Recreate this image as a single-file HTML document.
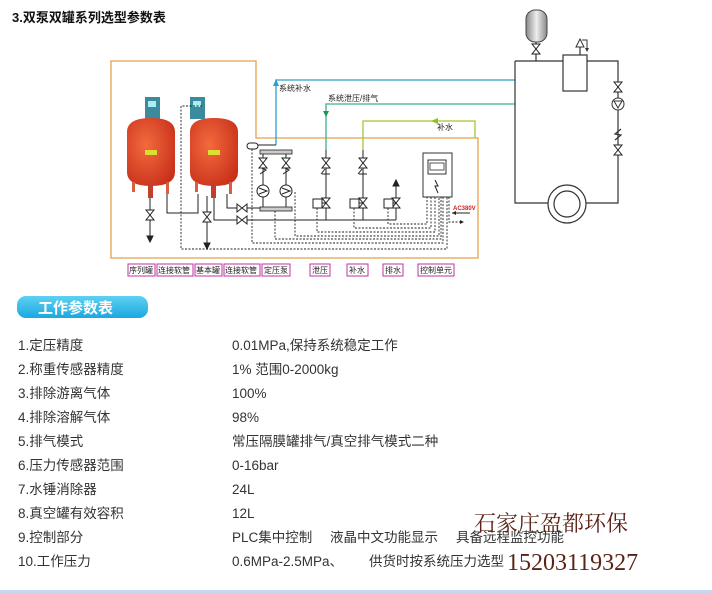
<!DOCTYPE html>
<html><head><meta charset="utf-8"><style>
html,body{margin:0;padding:0;background:#fff;width:712px;height:593px;overflow:hidden}
svg text{font-family:"Liberation Sans","Noto Sans CJK SC",sans-serif}
</style></head><body>
<svg width="712" height="593" viewBox="0 0 712 593" xmlns="http://www.w3.org/2000/svg">
<defs>
<radialGradient id="tk" cx="40%" cy="40%" r="70%"><stop offset="0" stop-color="#f36a3e"/><stop offset="1" stop-color="#c8301a"/></radialGradient>
<linearGradient id="gt" x1="0" x2="1"><stop offset="0" stop-color="#888"/><stop offset="0.5" stop-color="#eee"/><stop offset="1" stop-color="#888"/></linearGradient>
<linearGradient id="bd" x1="0" y1="0" x2="0" y2="1"><stop offset="0" stop-color="#5fd0f2"/><stop offset="1" stop-color="#1aa8e0"/></linearGradient>
<g id="vv"><path d="M-4,-5 L4,-5 L-4,5 L4,5 Z" fill="#fff" stroke="#222" stroke-width="1"/></g>
<g id="vh"><path d="M-5,-4 L-5,4 L5,-4 L5,4 Z" fill="#fff" stroke="#222" stroke-width="1"/></g>
</defs>
<text x="12" y="22" font-size="13" font-weight="bold" fill="#111">3.双泵双罐系列选型参数表</text>

<path d="M111,61 H256 V138 H478 V258 H111 Z" fill="none" stroke="#e8a050" stroke-width="1.3"/>

<path d="M276,145 V80 H515" fill="none" stroke="#2aa0c8" stroke-width="1.3"/>
<path d="M273,86 L276,79 L279,86 Z" fill="#2aa0c8"/>
<path d="M326,150 V104 H515" fill="none" stroke="#3ab090" stroke-width="1.3"/>
<path d="M323,111 L326,117 L329,111 Z" fill="#1a9a50"/>
<path d="M363,150 V121 H475 V138" fill="none" stroke="#a0c830" stroke-width="1.3"/>
<path d="M431,121 L438,118 L438,124 Z" fill="#90c020"/>
<text x="279" y="91" font-size="8" fill="#222">系统补水</text>
<text x="328" y="101" font-size="8" fill="#222">系统泄压/排气</text>
<text x="437" y="130" font-size="8" fill="#222">补水</text>

<g>
<rect x="145" y="97" width="15" height="22" fill="#3a8aa0"/><rect x="148" y="101" width="8" height="6" fill="#aee"/>
<path d="M127,132 Q127,118 151,118 Q175,118 175,132 V172 Q175,186 151,186 Q127,186 127,172 Z" fill="url(#tk)"/>
<rect x="145" y="150" width="12" height="5" fill="#dd3"/>
<rect x="132" y="182" width="3" height="10" fill="#d86040"/><rect x="166" y="182" width="3" height="12" fill="#d86040"/><rect x="148" y="184" width="5" height="14" fill="#c04030"/>
<rect x="190" y="97" width="15" height="22" fill="#3a8aa0"/><rect x="193" y="101" width="8" height="6" fill="#aee"/>
<path d="M190,132 Q190,118 214,118 Q238,118 238,132 V172 Q238,186 214,186 Q190,186 190,172 Z" fill="url(#tk)"/>
<rect x="208" y="150" width="12" height="5" fill="#dd3"/>
<rect x="195" y="182" width="3" height="10" fill="#d86040"/><rect x="229" y="182" width="3" height="12" fill="#d86040"/><rect x="211" y="184" width="5" height="14" fill="#c04030"/>
</g>

<g fill="none" stroke="#222" stroke-width="1">
<path d="M150,198 V232"/><path d="M167,194 V213 H198 V194"/>
<path d="M207,196 V232"/><path d="M214,198 V220 H260"/><path d="M227,194 V208 H260"/>
<path d="M258,145 H276"/>
<path d="M263,153 V207 M286,153 V207"/>
<path d="M260,220 H396"/>
<path d="M326,150 V220 M363,150 V220 M396,183 V220"/>
<path d="M322,203 H326 M359,203 H363 M393,203 H396"/>
<path d="M322,174 h8 M359,174 h8 M321,174 l4,-5 M358,174 l4,-5"/>
<path d="M260,174 l6,-4 l-6,-3 M283,174 l6,-4 l-6,-3"/>
</g>
<rect x="260" y="150" width="32" height="4" fill="#ccc" stroke="#222" stroke-width="0.8"/>
<rect x="260" y="207" width="32" height="4" fill="#ccc" stroke="#222" stroke-width="0.8"/>
<rect x="247" y="143" width="11" height="6" rx="3" fill="#fff" stroke="#222"/>
<circle cx="263" cy="191" r="6" fill="#fff" stroke="#222"/><path d="M259,188 L267,191 L259,194" fill="none" stroke="#222"/>
<circle cx="286" cy="191" r="6" fill="#fff" stroke="#222"/><path d="M282,188 L290,191 L282,194" fill="none" stroke="#222"/>
<use href="#vv" x="150" y="215"/><use href="#vv" x="207" y="217"/>
<use href="#vh" x="242" y="208"/><use href="#vh" x="242" y="220"/>
<use href="#vv" x="263" y="163"/><use href="#vv" x="286" y="163"/>
<use href="#vv" x="326" y="163"/><use href="#vv" x="326" y="203"/>
<use href="#vv" x="363" y="163"/><use href="#vv" x="363" y="203"/>
<use href="#vv" x="396" y="203"/>
<rect x="313" y="199" width="9" height="9" fill="#fff" stroke="#222"/>
<rect x="350" y="199" width="9" height="9" fill="#fff" stroke="#222"/>
<rect x="384" y="199" width="9" height="9" fill="#fff" stroke="#222"/>
<path d="M150,232 V239 M147,236 L150,242 L153,236 Z M207,232 V245 M204,243 L207,249 L210,243 Z M393,186 L396,180 L399,186 Z" fill="#222" stroke="#222" stroke-width="1"/>
<rect x="423" y="153" width="29" height="44" fill="#fff" stroke="#333"/>
<rect x="428" y="160" width="18" height="14" fill="#fff" stroke="#333"/><rect x="430" y="163" width="14" height="7" fill="#fff" stroke="#555"/>
<path d="M435,180 l3,6 l-3,0 l3,7" fill="none" stroke="#222"/>
<text x="453" y="210" font-size="6" font-weight="bold" fill="#d02020">AC380V</text>
<path d="M452,213 H470" stroke="#222"/><path d="M452,213 l4,-2 v4 z" fill="#222"/>
<g fill="none" stroke="#222" stroke-width="0.9" stroke-dasharray="2,1.5">
<path d="M202,106 H181 V249 H447 V197"/>
<path d="M252,149 V243 H443 V197"/>
<path d="M295,192 V236 H439 V197"/>
<path d="M275,211 V239 H441 V197"/>
<path d="M317,208 V232 H435 V197"/>
<path d="M354,208 V228 H431 V197"/>
<path d="M388,208 V224 H427 V197"/>
<path d="M449,197 V222 H460"/>
</g>
<path d="M460,220 l4,2 l-4,2 z" fill="#222"/>

<g fill="none" stroke="#333" stroke-width="1.2">
<path d="M515,61 V203 H548 M586,203 H618 V61 H587 M563,61 H515"/>
<path d="M536,42 V61 M580,55 V47"/>
<path d="M615,140 l6,-5 l-6,-1 l6,-5"/>
</g>
<rect x="526" y="10" width="21" height="32" rx="9" fill="url(#gt)" stroke="#444"/>
<rect x="563" y="55" width="24" height="36" fill="#fff" stroke="#333" stroke-width="1.2"/>
<path d="M576,47 l4,-8 l4,8 z M582,40 h5 v10" fill="none" stroke="#333"/><path d="M585,48 l2,4 l2,-4z" fill="#333"/>
<circle cx="567" cy="204" r="19" fill="#fff" stroke="#333" stroke-width="1.2"/>
<circle cx="567" cy="204" r="13" fill="#fff" stroke="#333" stroke-width="1.2"/>
<use href="#vv" x="536" y="49"/>
<use href="#vv" x="618" y="87"/><use href="#vv" x="618" y="150"/>
<circle cx="618" cy="104" r="6" fill="#fff" stroke="#333"/><path d="M614,101 L622,101 L618,108 Z" fill="none" stroke="#333"/>

<g font-size="8" fill="#222" stroke="none">
<g fill="none" stroke="#c030a0" stroke-width="1">
<rect x="128" y="264" width="27" height="12"/><rect x="157" y="264" width="36" height="12"/><rect x="195" y="264" width="27" height="12"/><rect x="224" y="264" width="36" height="12"/><rect x="262" y="264" width="28" height="12"/>
<rect x="310" y="264" width="20" height="12"/><rect x="347" y="264" width="21" height="12"/><rect x="383" y="264" width="20" height="12"/><rect x="418" y="264" width="36" height="12"/>
</g>
<text x="129" y="273">序列罐</text><text x="158" y="273">连接软管</text><text x="196" y="273">基本罐</text><text x="225" y="273">连接软管</text><text x="264" y="273">定压泵</text>
<text x="312" y="273">泄压</text><text x="349" y="273">补水</text><text x="385" y="273">排水</text><text x="420" y="273">控制单元</text>
</g>

<rect x="17" y="296" width="131" height="22" rx="9" fill="url(#bd)"/>
<text x="38" y="313" font-size="15" font-weight="bold" fill="#fff">工作参数表</text>

<g font-size="13.5" fill="#333">
<text x="18" y="350">1.定压精度</text><text x="232" y="350">0.01MPa,保持系统稳定工作</text>
<text x="18" y="374">2.称重传感器精度</text><text x="232" y="374">1%  范围0-2000kg</text>
<text x="18" y="398">3.排除游离气体</text><text x="232" y="398">100%</text>
<text x="18" y="422">4.排除溶解气体</text><text x="232" y="422">98%</text>
<text x="18" y="446">5.排气模式</text><text x="232" y="446">常压隔膜罐排气/真空排气模式二种</text>
<text x="18" y="470">6.压力传感器范围</text><text x="232" y="470">0-16bar</text>
<text x="18" y="494">7.水锤消除器</text><text x="232" y="494">24L</text>
<text x="18" y="518">8.真空罐有效容积</text><text x="232" y="518">12L</text>
<text x="18" y="542">9.控制部分</text><text x="232" y="542">PLC集中控制</text><text x="330" y="542">液晶中文功能显示</text><text x="456" y="542">具备远程监控功能</text>
<text x="18" y="566">10.工作压力</text><text x="232" y="566">0.6MPa-2.5MPa、</text><text x="369" y="566">供货时按系统压力选型</text>
</g>
<text x="474" y="531" font-size="22" fill="#5a2418" style="font-family:'Liberation Serif','Noto Serif CJK SC',serif">石家庄盈都环保</text>
<text x="507" y="570" font-size="24" fill="#5a2418" style="font-family:'Liberation Serif','Noto Serif CJK SC',serif">15203119327</text>
<rect x="0" y="590" width="712" height="3" fill="#c8d8f4"/>
</svg>
</body></html>
